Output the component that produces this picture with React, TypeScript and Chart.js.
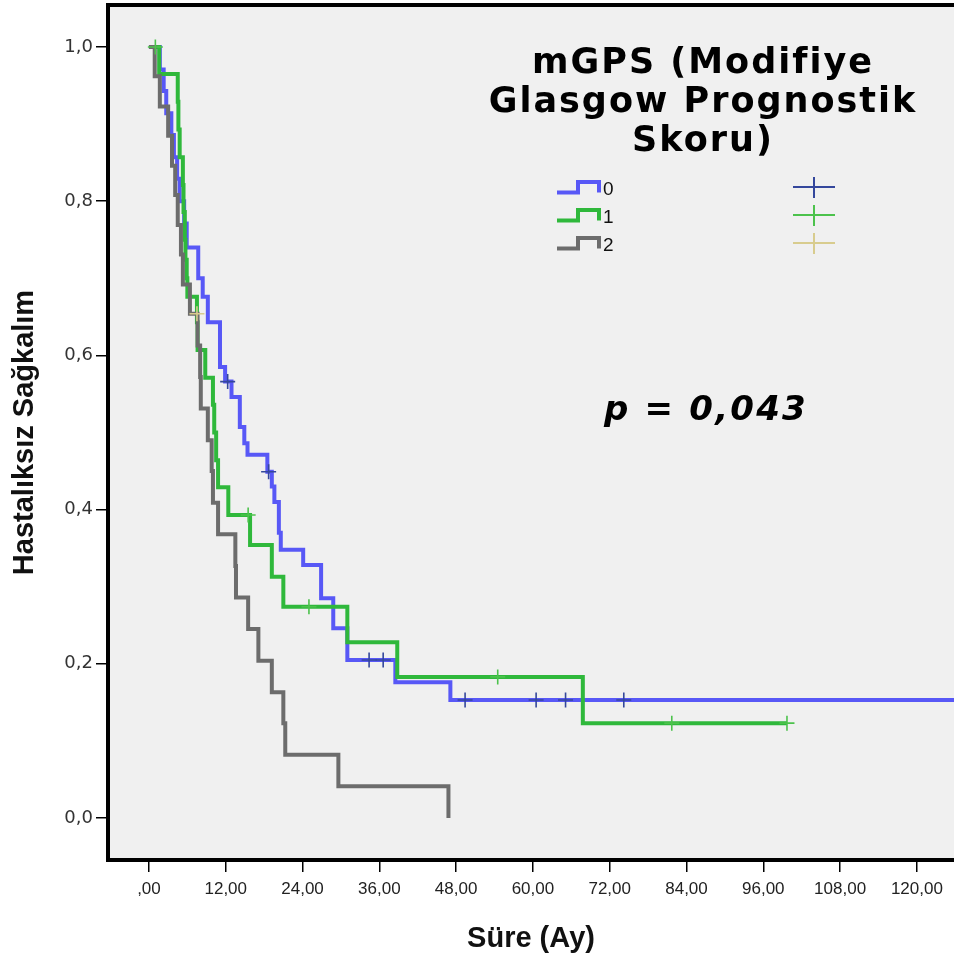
import React, { useEffect, useRef } from 'react';
import { Chart, registerables } from 'chart.js';

Chart.register(...registerables);

// Axis ranges (months on x, survival proportion on y)
const X_MIN = -6.4;
const X_MAX = 125.8;
const Y_MIN = -0.0545;
const Y_MAX = 1.0545;
const X_TICKS = [0, 12, 24, 36, 48, 60, 72, 84, 96, 108, 120];
const Y_TICKS = [0, 0.2, 0.4, 0.6, 0.8, 1.0];

const GROUPS = ['0', '1', '2'];
const LEGEND_TITLE = ['mGPS (Modifiye', 'Glasgow Prognostik', 'Skoru)'];
const P_TEXT = 'p = 0,043';
const X_TITLE = 'Süre (Ay)';
const Y_TITLE = 'Hastalıksız Sağkalım';

// Kaplan-Meier steps: time of each event and survival after it
const G0_TIMES = [0, 1.7, 2.3, 2.7, 3.5, 3.9, 4.4, 4.8, 5.5, 5.9, 7.7, 8.4, 9.2, 11.1, 11.9, 12.9, 14.2, 14.9, 15.4, 18.5, 19.2, 19.6, 20.3, 20.6, 24.1, 26.9, 28.8, 31.0, 38.5, 47.1, 130];
const G0_SURV = [1.0, 0.971, 0.943, 0.914, 0.886, 0.857, 0.829, 0.8, 0.771, 0.74, 0.7, 0.676, 0.643, 0.585, 0.566, 0.546, 0.507, 0.486, 0.471, 0.449, 0.43, 0.41, 0.37, 0.348, 0.328, 0.285, 0.246, 0.205, 0.176, 0.153, 0.153];
const G0_CENSOR_TIMES = [12.3, 18.7, 34.4, 36.6, 49.4, 60.5, 65.1, 74.2];
const G0_CENSOR_SURV = [0.566, 0.449, 0.205, 0.205, 0.153, 0.153, 0.153, 0.153];

const G1_TIMES = [0, 1.6, 4.5, 4.6, 4.8, 5.3, 5.4, 5.6, 5.7, 5.9, 6.0, 7.5, 7.6, 8.8, 10.0, 10.2, 10.5, 10.8, 12.4, 15.8, 19.2, 21.0, 31.0, 38.8, 67.8, 99.7];
const G1_SURV = [1.0, 0.965, 0.929, 0.893, 0.857, 0.821, 0.786, 0.75, 0.724, 0.7, 0.676, 0.643, 0.607, 0.571, 0.536, 0.5, 0.464, 0.429, 0.393, 0.354, 0.313, 0.274, 0.228, 0.183, 0.123, 0.123];
const G1_CENSOR_TIMES = [1.0, 15.5, 25.0, 54.5, 81.7, 99.7];
const G1_CENSOR_SURV = [1.0, 0.393, 0.274, 0.183, 0.123, 0.123];

const G2_TIMES = [0, 0.9, 1.7, 3.0, 3.6, 4.1, 4.5, 5.0, 5.3, 6.4, 7.6, 8.0, 8.1, 9.2, 9.8, 10.0, 10.8, 13.5, 13.6, 15.5, 17.1, 19.2, 21.0, 21.3, 29.6, 46.8];
const G2_SURV = [1.0, 0.962, 0.923, 0.885, 0.846, 0.808, 0.769, 0.731, 0.692, 0.654, 0.613, 0.572, 0.531, 0.49, 0.45, 0.409, 0.368, 0.327, 0.286, 0.245, 0.204, 0.163, 0.123, 0.082, 0.041, 0.0];
const G2_CENSOR_TIMES = [7.5];
const G2_CENSOR_SURV = [0.654];

const LINE_COLORS = ['#5858f6', '#2fb83b', '#6c6c6c'];
const CENSOR_COLORS = ['#34479c', '#4cc24c', '#d8cc8e'];

const toPoints = (xs: number[], ys: number[]) => xs.map((x, i) => ({ x, y: ys[i] }));

const fmtX = (v: number) => (v === 0 ? ',00' : v.toFixed(2).replace('.', ','));
const fmtY = (v: number) => v.toFixed(1).replace('.', ',');

const frameAndLegend = {
  id: 'frameAndLegend',
  beforeDraw(chart: any) {
    const { ctx, chartArea: a, width, height } = chart;
    ctx.save();
    ctx.fillStyle = '#ffffff';
    ctx.fillRect(0, 0, width, height);
    ctx.fillStyle = '#f0f0f0';
    ctx.fillRect(a.left, a.top, a.right - a.left, a.bottom - a.top);
    ctx.restore();
  },
  afterDraw(chart: any) {
    const { ctx, chartArea: a } = chart;
    ctx.save();
    // plot frame (left, top, bottom)
    ctx.strokeStyle = '#000';
    ctx.lineWidth = 4;
    ctx.lineJoin = 'miter';
    ctx.beginPath();
    ctx.moveTo(a.right + 4, a.top);
    ctx.lineTo(a.left, a.top);
    ctx.lineTo(a.left, a.bottom);
    ctx.lineTo(a.right + 4, a.bottom);
    ctx.stroke();

    // legend title
    ctx.fillStyle = '#000';
    ctx.textAlign = 'center';
    ctx.textBaseline = 'alphabetic';
    ctx.font = 'bold 35px "DejaVu Sans", Verdana, sans-serif';
    (ctx as any).letterSpacing = '2px';
    const cx = 703;
    LEGEND_TITLE.forEach((line, i) => ctx.fillText(line, cx, 73 + i * 39));

    // p value
    ctx.font = 'italic bold 34px "DejaVu Sans", Verdana, sans-serif';
    (ctx as any).letterSpacing = '2.2px';
    ctx.textAlign = 'left';
    ctx.fillText(P_TEXT, 604, 420);
    (ctx as any).letterSpacing = '0px';

    // legend entries
    ctx.font = '19px "Liberation Sans", Arial, sans-serif';
    ctx.textBaseline = 'middle';
    GROUPS.forEach((g, i) => {
      const cy = 189 + i * 28;
      ctx.strokeStyle = LINE_COLORS[i];
      ctx.lineWidth = 4;
      ctx.beginPath();
      ctx.moveTo(557, cy + 3.5);
      ctx.lineTo(578, cy + 3.5);
      ctx.lineTo(578, cy - 7);
      ctx.lineTo(599, cy - 7);
      ctx.lineTo(599, cy + 3.5);
      ctx.stroke();
      ctx.fillStyle = '#111';
      ctx.fillText(g, 603, cy + 1);

      ctx.strokeStyle = CENSOR_COLORS[i];
      ctx.lineWidth = 2;
      ctx.beginPath();
      ctx.moveTo(793, cy - 2);
      ctx.lineTo(835, cy - 2);
      ctx.moveTo(814, cy - 12);
      ctx.lineTo(814, cy + 9);
      ctx.stroke();
    });
    ctx.restore();
  },
};

export default function App() {
  const ref = useRef<HTMLCanvasElement | null>(null);

  useEffect(() => {
    document.body.style.margin = '0';
    const canvas = ref.current;
    if (!canvas) return;

    const lineSet = (i: number, xs: number[], ys: number[], order: number) => ({
      label: GROUPS[i],
      data: toPoints(xs, ys),
      showLine: true,
      stepped: 'before' as const,
      borderColor: LINE_COLORS[i],
      backgroundColor: LINE_COLORS[i],
      borderWidth: 4,
      borderJoinStyle: 'miter' as const,
      pointRadius: 0,
      fill: false,
      order,
    });
    const censorSet = (i: number, xs: number[], ys: number[]) => ({
      label: GROUPS[i] + ' censored',
      data: toPoints(xs, ys),
      showLine: false,
      pointStyle: 'cross' as const,
      pointRadius: 7.5,
      pointBorderWidth: 1.6,
      borderColor: CENSOR_COLORS[i],
      backgroundColor: CENSOR_COLORS[i],
      order: 0,
    });

    const tickFontY = { family: '"DejaVu Sans", Verdana, sans-serif', size: 18 };
    const tickFontX = { family: '"Liberation Sans", Arial, sans-serif', size: 17 };
    const titleFont = { family: '"Liberation Sans", Arial, sans-serif', size: 29, weight: 'bold' as const };

    const chart = new Chart(canvas, {
      type: 'scatter',
      data: {
        datasets: [
          censorSet(0, G0_CENSOR_TIMES, G0_CENSOR_SURV),
          censorSet(1, G1_CENSOR_TIMES, G1_CENSOR_SURV),
          censorSet(2, G2_CENSOR_TIMES, G2_CENSOR_SURV),
          lineSet(2, G2_TIMES, G2_SURV, 1),
          lineSet(1, G1_TIMES, G1_SURV, 2),
          lineSet(0, G0_TIMES, G0_SURV, 3),
        ] as any,
      },
      options: {
        animation: false,
        responsive: false,
        maintainAspectRatio: false,
        layout: { autoPadding: false, padding: { top: 5, right: 0, left: 0, bottom: 0 } },
        plugins: { legend: { display: false }, tooltip: { enabled: false } },
        scales: {
          x: {
            type: 'linear',
            min: X_MIN,
            max: X_MAX,
            afterBuildTicks: (s: any) => {
              s.ticks = X_TICKS.map((v) => ({ value: v }));
            },
            afterFit: (s: any) => {
              s.height = 104;
              s.paddingLeft = 0;
              s.paddingRight = 0;
            },
            grid: { drawOnChartArea: false, drawTicks: true, tickLength: 12, color: '#000', lineWidth: 1.5 },
            border: { display: false },
            ticks: {
              callback: (v: any) => fmtX(Number(v)),
              font: tickFontX,
              color: '#222',
              padding: 7,
              maxRotation: 0,
              autoSkip: false,
            },
            title: { display: true, text: X_TITLE, font: titleFont, color: '#111', padding: { top: 4, bottom: 8 } },
          },
          y: {
            type: 'linear',
            min: Y_MIN,
            max: Y_MAX,
            afterBuildTicks: (s: any) => {
              s.ticks = Y_TICKS.map((v) => ({ value: v }));
            },
            afterFit: (s: any) => {
              s.width = 108;
              s.paddingTop = 0;
              s.paddingBottom = 0;
            },
            grid: { drawOnChartArea: false, drawTicks: true, tickLength: 12, color: '#000', lineWidth: 1.5 },
            border: { display: false },
            ticks: {
              callback: (v: any) => fmtY(Number(v)),
              font: tickFontY,
              color: '#333',
              padding: 3,
              autoSkip: false,
            },
            title: { display: true, text: Y_TITLE, font: titleFont, color: '#111', padding: { top: 8, bottom: 4 } },
          },
        },
      },
      plugins: [frameAndLegend],
    });

    return () => chart.destroy();
  }, []);

  return <canvas ref={ref} width={954} height={964} style={{ display: 'block' }} />;
}
